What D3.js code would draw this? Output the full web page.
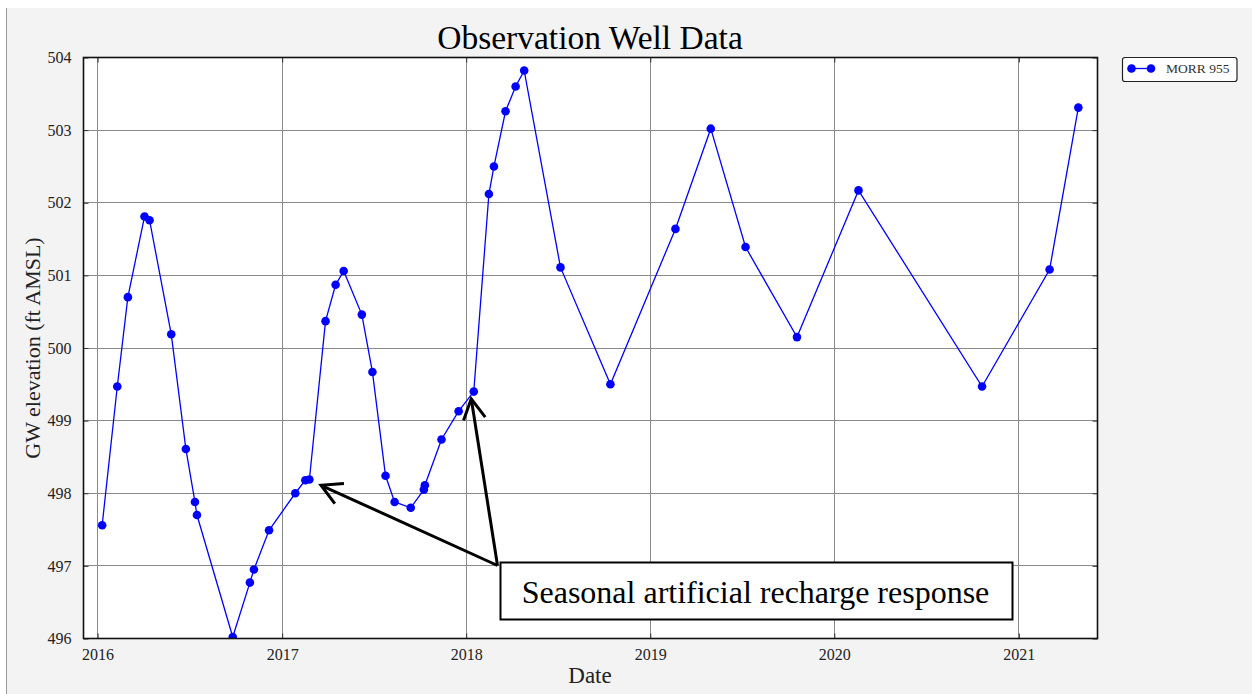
<!DOCTYPE html>
<html>
<head>
<meta charset="utf-8">
<script src="https://cdn.jsdelivr.net/npm/d3@7"></script>
<style>
  html, body { margin: 0; padding: 0; background: #ffffff; }
  svg { display: block; }
  text { font-family: "Liberation Serif", "DejaVu Serif", serif; }
</style>
</head>
<body>
<svg id="chart" width="1252" height="694"></svg>
<script>
// ---- data ----
const dates = [
  "2016-01-10","2016-02-09","2016-03-01","2016-04-03","2016-04-13","2016-05-26",
  "2016-06-24","2016-07-12","2016-07-16","2016-09-25","2016-10-29","2016-11-06",
  "2016-12-06","2017-01-27","2017-02-16","2017-02-24","2017-03-28","2017-04-17",
  "2017-05-03","2017-06-08","2017-06-29","2017-07-25","2017-08-12","2017-09-13",
  "2017-10-09","2017-10-11","2017-11-13","2017-12-17","2018-01-16","2018-02-15",
  "2018-02-25","2018-03-20","2018-04-09","2018-04-26","2018-07-07","2018-10-14",
  "2019-02-20","2019-05-01","2019-07-09","2019-10-19","2020-02-18","2020-10-20",
  "2021-03-03","2021-04-29"
];
const elevations = [
  497.56, 499.47, 500.70, 501.81, 501.76, 500.19,
  498.61, 497.88, 497.70, 496.02, 496.77, 496.95,
  497.49, 498.00, 498.18, 498.19, 500.37, 500.87,
  501.06, 500.46, 499.67, 498.24, 497.88, 497.80,
  498.05, 498.11, 498.74, 499.13, 499.40, 502.12,
  502.50, 503.26, 503.60, 503.82, 501.11, 499.50,
  501.64, 503.02, 501.39, 500.15, 502.17, 499.47,
  501.08, 503.31
];
const seriesName = "MORR 955";
const yTicks = [496, 497, 498, 499, 500, 501, 502, 503, 504];
const xTickYears = ["2016", "2017", "2018", "2019", "2020", "2021"];
const xDomain = ["2015-12-04", "2021-06-06"];
const yDomain = [496, 504];
const titleText = "Observation Well Data";
const xLabel = "Date";
const yLabel = "GW elevation (ft AMSL)";
const annotationText = "Seasonal artificial recharge response";
const annotationTargets = [
  { date: "2017-03-19", value: 498.11 },
  { date: "2018-01-11", value: 499.30 }
];

// ---- drawing ----
const parse = d3.timeParse("%Y-%m-%d");
const parseY = d3.timeParse("%Y");
const data = dates.map((d, i) => ({ date: parse(d), value: elevations[i] }));

const svg = d3.select("#chart");
const W = 1252, H = 694;
const plot = { left: 83.5, top: 57.5, right: 1097.5, bottom: 638.5 };

// figure background
svg.append("rect").attr("x", 0).attr("y", 0).attr("width", W).attr("height", H).attr("fill", "#ffffff");
svg.append("rect").attr("x", 7).attr("y", 8).attr("width", W - 7).attr("height", H - 8).attr("fill", "#f3f3f3");
svg.append("line").attr("x1", 6.5).attr("x2", 6.5).attr("y1", 8).attr("y2", H)
  .attr("stroke", "#9a9a9a").attr("stroke-width", 1);

const x = d3.scaleTime().domain(xDomain.map(parse)).range([plot.left, plot.right]);
const y = d3.scaleLinear().domain(yDomain).range([plot.bottom, plot.top]);

// plot area
svg.append("rect")
  .attr("x", plot.left).attr("y", plot.top)
  .attr("width", plot.right - plot.left).attr("height", plot.bottom - plot.top)
  .attr("fill", "#ffffff");

const xTickDates = xTickYears.map(parseY);

// grid lines
const grid = svg.append("g").attr("class", "grid");
grid.selectAll(".gx").data(xTickDates).enter().append("line")
  .attr("x1", d => x(d)).attr("x2", d => x(d))
  .attr("y1", plot.top).attr("y2", plot.bottom)
  .attr("stroke", "#8a8a8a").attr("stroke-width", 1).attr("shape-rendering", "crispEdges");
grid.selectAll(".gy").data(yTicks).enter().append("line")
  .attr("x1", plot.left).attr("x2", plot.right)
  .attr("y1", d => y(d)).attr("y2", d => y(d))
  .attr("stroke", "#8a8a8a").attr("stroke-width", 1).attr("shape-rendering", "crispEdges");

// axes (ticks inward)
const xAxisB = d3.axisBottom(x).tickValues(xTickDates).tickFormat(d3.timeFormat("%Y"))
  .tickSizeInner(-5).tickSizeOuter(0).tickPadding(10);
const gxB = svg.append("g").attr("transform", `translate(0,${plot.bottom})`).call(xAxisB);
gxB.select(".domain").remove();
gxB.selectAll("line").attr("stroke", "#333");
gxB.selectAll("text").attr("font-size", 16).attr("fill", "#222")
  .attr("font-family", "'Liberation Serif', serif");

const xAxisT = d3.axisTop(x).tickValues(xTickDates).tickFormat("").tickSizeInner(-5).tickSizeOuter(0);
const gxT = svg.append("g").attr("transform", `translate(0,${plot.top})`).call(xAxisT);
gxT.select(".domain").remove();
gxT.selectAll("line").attr("stroke", "#333");

const yAxisL = d3.axisLeft(y).tickValues(yTicks).tickFormat(d3.format("d"))
  .tickSizeInner(-5).tickSizeOuter(0).tickPadding(12);
const gyL = svg.append("g").attr("transform", `translate(${plot.left},0)`).call(yAxisL);
gyL.select(".domain").remove();
gyL.selectAll("line").attr("stroke", "#333");
gyL.selectAll("text").attr("font-size", 16).attr("fill", "#222")
  .attr("font-family", "'Liberation Serif', serif");

const yAxisR = d3.axisRight(y).tickValues(yTicks).tickFormat("").tickSizeInner(-5).tickSizeOuter(0);
const gyR = svg.append("g").attr("transform", `translate(${plot.right},0)`).call(yAxisR);
gyR.select(".domain").remove();
gyR.selectAll("line").attr("stroke", "#333");

// clip
svg.append("clipPath").attr("id", "clip").append("rect")
  .attr("x", plot.left).attr("y", plot.top)
  .attr("width", plot.right - plot.left).attr("height", plot.bottom - plot.top);

const series = svg.append("g").attr("clip-path", "url(#clip)");
const line = d3.line().x(d => x(d.date)).y(d => y(d.value));
series.append("path").datum(data)
  .attr("d", line).attr("fill", "none")
  .attr("stroke", "#0000ff").attr("stroke-width", 1.3);
series.selectAll("circle").data(data).enter().append("circle")
  .attr("cx", d => x(d.date)).attr("cy", d => y(d.value)).attr("r", 4.3)
  .attr("fill", "#0000ff");

// frame
svg.append("rect")
  .attr("x", plot.left).attr("y", plot.top)
  .attr("width", plot.right - plot.left).attr("height", plot.bottom - plot.top)
  .attr("fill", "none").attr("stroke", "#111").attr("stroke-width", 1.6);

// title & labels
svg.append("text").attr("x", 590).attr("y", 49)
  .attr("text-anchor", "middle").attr("font-size", 33.5).attr("fill", "#000").text(titleText);
svg.append("text").attr("x", 590).attr("y", 683)
  .attr("text-anchor", "middle").attr("font-size", 23).attr("fill", "#222").text(xLabel);
svg.append("text")
  .attr("transform", `translate(40,${(plot.top + plot.bottom) / 2}) rotate(-90)`)
  .attr("text-anchor", "middle").attr("font-size", 22).attr("fill", "#222").text(yLabel);

// annotation
const boxX = 500.5, boxY = 562.5, boxW = 512, boxH = 57;
const origin = { x: boxX - 3, y: boxY + 3 };
const ann = svg.append("g");
annotationTargets.forEach(t => {
  const tx = x(parse(t.date)), ty = y(t.value);
  const ang = Math.atan2(origin.y - ty, origin.x - tx);
  const L = 23, spread = Math.PI / 6.3;
  ann.append("line").attr("x1", origin.x).attr("y1", origin.y).attr("x2", tx).attr("y2", ty)
    .attr("stroke", "#000").attr("stroke-width", 3);
  ann.append("path")
    .attr("d", `M${tx + L * Math.cos(ang + spread)},${ty + L * Math.sin(ang + spread)} L${tx},${ty} L${tx + L * Math.cos(ang - spread)},${ty + L * Math.sin(ang - spread)}`)
    .attr("fill", "none").attr("stroke", "#000").attr("stroke-width", 3)
    .attr("stroke-linejoin", "miter").attr("stroke-linecap", "butt");
});
ann.append("rect").attr("x", boxX).attr("y", boxY).attr("width", boxW).attr("height", boxH)
  .attr("fill", "#ffffff").attr("stroke", "#000").attr("stroke-width", 2);
ann.append("text").attr("x", boxX + boxW / 2 - 1).attr("y", boxY + 40)
  .attr("text-anchor", "middle").attr("font-size", 32).attr("fill", "#000").text(annotationText);

// legend
const lg = svg.append("g");
lg.append("rect").attr("x", 1122.5).attr("y", 57.5).attr("width", 114.5).attr("height", 24)
  .attr("rx", 2.5).attr("fill", "#ffffff").attr("stroke", "#222").attr("stroke-width", 1.2);
lg.append("line").attr("x1", 1131.5).attr("x2", 1151).attr("y1", 68.5).attr("y2", 68.5)
  .attr("stroke", "#0000ff").attr("stroke-width", 1.3);
[1131.5, 1151].forEach(cx => lg.append("circle").attr("cx", cx).attr("cy", 68.5).attr("r", 4.3).attr("fill", "#0000ff"));
lg.append("text").attr("x", 1166).attr("y", 73).attr("font-size", 13.5).attr("fill", "#333").text(seriesName);
</script>
</body>
</html>
